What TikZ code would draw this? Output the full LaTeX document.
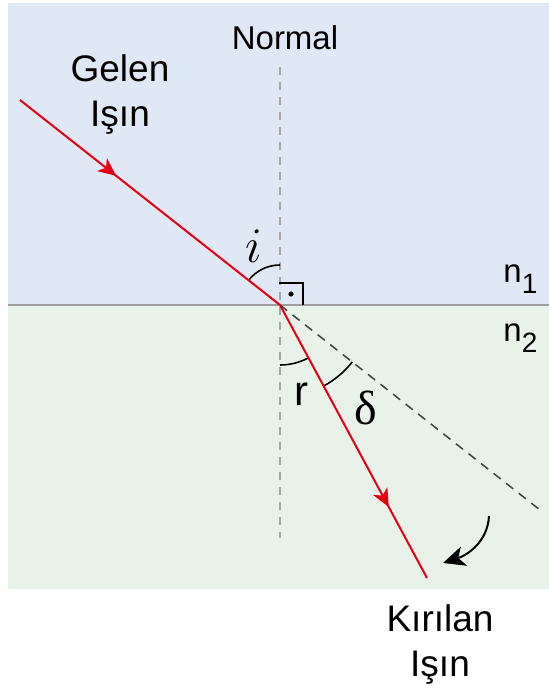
\documentclass[tikz,border=0pt]{standalone}
\usepackage{fontspec}
\setmainfont{Liberation Sans}
\newfontfamily\greekfont{Liberation Serif}
\usetikzlibrary{arrows.meta, decorations.markings, calc}

\definecolor{topblue}{RGB}{224,231,245}
\definecolor{botgreen}{RGB}{233,242,233}
\definecolor{rayred}{RGB}{232,0,18}
\newcommand{\subidx}[1]{\raisebox{-5.5pt}{\fontsize{14}{14}\selectfont #1}}

\begin{document}
\begin{tikzpicture}[
        x=0.5pt, y=0.5pt,
        % Styles
        txt/.style={font=\fontsize{16.5}{22}\selectfont, align=center, inner sep=0pt},
        big_txt/.style={txt, font=\fontsize{18.5}{22.5}\selectfont},
        math_txt/.style={font=\fontsize{24}{24}\selectfont, inner sep=0pt},
        ray/.style={draw=rayred, line width=1pt, postaction={decorate},
            decoration={markings, mark=at position #1 with {\arrow{Stealth[length=9pt, width=8pt, inset=2.5pt]}}}},
        normal_line/.style={draw=black!35, line width=0.75pt, dash pattern=on 4pt off 3.5pt},
        ext_line/.style={draw=black!75, line width=0.75pt, dash pattern=on 4.5pt off 3.5pt},
        angle_arc/.style={draw=black, line width=0.8pt},
        turn_arrow/.style={-{Stealth[length=11pt, width=10pt, inset=3pt]}, line width=1pt}
    ]
    \useasboundingbox (0,0) rectangle (549,-688);

    % Media
    \fill[topblue] (8,-3) rectangle (549,-305);
    \fill[botgreen] (8,-305) rectangle (549,-589);
    \draw[black!38, line width=1pt] (8,-305) -- (549,-305);

    % Points
    \coordinate (O) at (280,-305);
    \coordinate (src) at (20,-100);
    \coordinate (dst) at (427,-578);
    \coordinate (ext) at (540,-510);
    \coordinate (ntop) at (280,-67);
    \coordinate (nbot) at (280,-538);
    \coordinate (turnA) at (489,-516);
    \coordinate (turnB) at (443,-563);

    % Normal and extension
    \draw[normal_line] (ntop) -- (nbot);
    \draw[ext_line] (O) -- (ext);

    % Angles
    \draw[angle_arc] ($(O)+(90:40)$) arc[start angle=90, end angle=141.75, radius=40];
    \draw[angle_arc] ($(O)+(270:60)$) arc[start angle=270, end angle=298.3, radius=60];
    \draw[angle_arc] ($(O)+(298.3:92)$) arc[start angle=298.3, end angle=321.75, radius=92];
    \draw[angle_arc] ($(O)+(-1,22)$) -- ($(O)+(23,22)$) -- ($(O)+(23,0)$);
    \fill ($(O)+(11,11)$) circle (2.6);

    % Rays
    \draw[ray=0.37] (src) -- (O);
    \draw[ray=0.74] (O) -- (dst);
    \draw[turn_arrow] (turnA) to[out=-93, in=18] (turnB);

    % Labels
    \node[txt, anchor=base] (normaltxt) at (285,-50) {Normal};
    \node[big_txt, anchor=base] (gelen) at (120,-127) {Gelen\\Işın};
    \node[big_txt, anchor=base] (kirilan) at (440,-676) {Kırılan\\Işın};
    \node[txt, anchor=base west] (n1) at (503,-283) {n\subidx{1}};
    \node[txt, anchor=base west] (n2) at (503,-342) {n\subidx{2}};
    \node[math_txt, anchor=base] (ilabel) at (254,-263) {$i$};
    \node[txt, font=\fontsize{21}{21}\selectfont, anchor=base] (rlabel) at (301,-405) {r};
    \node[math_txt, font=\greekfont\fontsize{24}{24}\selectfont, anchor=base] (dlabel) at (366,-424) {δ};

\end{tikzpicture}
\end{document}
